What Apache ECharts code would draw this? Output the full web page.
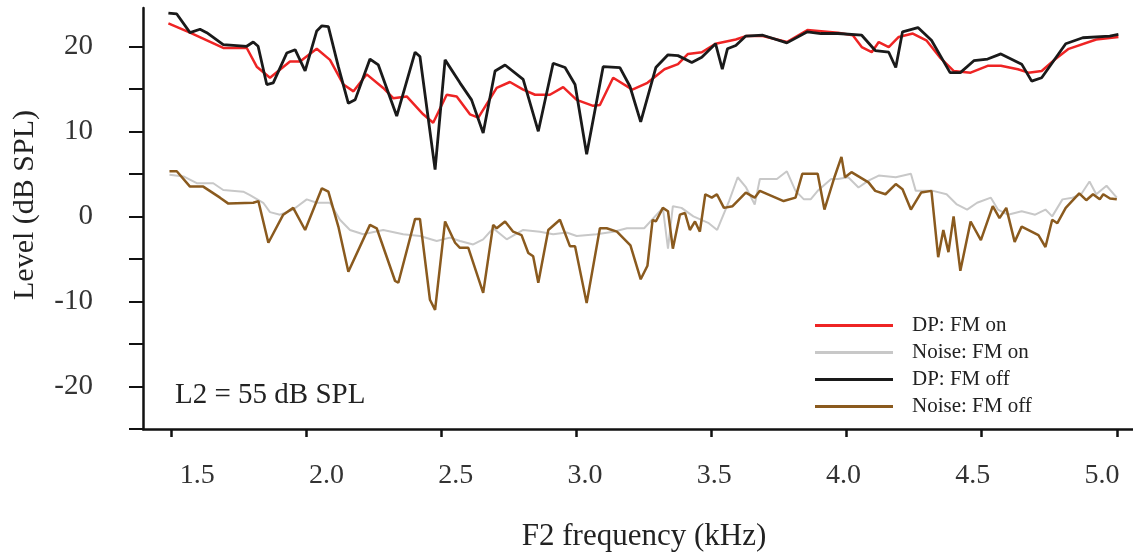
<!DOCTYPE html>
<html>
<head>
<meta charset="utf-8">
<script src="https://cdn.jsdelivr.net/npm/echarts@6/dist/echarts.min.js"></script>
<style>
  html, body { margin: 0; padding: 0; background: #fff; }
  #chart { width: 1133px; height: 556px; }
</style>
</head>
<body>
<div id="chart"></div>
<script>
// tick labels on the frequency axis (kHz)
const freqTicks = [1.5, 2.0, 2.5, 3.0, 3.5, 4.0, 4.5, 5.0];

// DP: FM on
const dpOnF = [1.490, 1.570, 1.693, 1.780, 1.817, 1.866, 1.940, 1.977, 2.039, 2.088, 2.138, 2.175, 2.224, 2.285, 2.322, 2.372, 2.433, 2.470, 2.520, 2.557, 2.606, 2.637, 2.705, 2.754, 2.803, 2.847, 2.902, 2.951, 3.001, 3.062, 3.087, 3.136, 3.207, 3.263, 3.326, 3.376, 3.413, 3.464, 3.515, 3.590, 3.627, 3.690, 3.779, 3.855, 3.968, 4.023, 4.056, 4.093, 4.119, 4.156, 4.193, 4.245, 4.295, 4.345, 4.396, 4.459, 4.522, 4.571, 4.634, 4.673, 4.722, 4.773, 4.822, 4.924, 5.006];
const dpOnL = [22.7, 21.6, 19.8, 19.8, 17.6, 16.3, 18.2, 18.2, 19.7, 18.4, 15.5, 14.7, 16.7, 15.1, 13.9, 14.1, 12.0, 11.0, 14.3, 14.1, 12.0, 11.6, 15.1, 15.8, 14.9, 14.3, 14.3, 15.2, 13.7, 13.0, 13.1, 16.3, 14.9, 15.7, 17.3, 17.9, 19.1, 19.3, 20.3, 20.8, 21.2, 21.2, 20.5, 21.9, 21.6, 21.3, 19.9, 19.3, 20.5, 19.9, 21.1, 21.5, 20.7, 18.7, 17.1, 16.9, 17.7, 17.7, 17.3, 16.9, 17.1, 18.5, 19.7, 20.8, 21.1];

// Noise: FM on
const noiseOnF = [1.494, 1.546, 1.595, 1.656, 1.693, 1.767, 1.792, 1.841, 1.866, 1.903, 1.952, 2.002, 2.039, 2.088, 2.125, 2.162, 2.211, 2.285, 2.359, 2.421, 2.483, 2.532, 2.569, 2.618, 2.655, 2.692, 2.742, 2.803, 2.865, 2.914, 2.964, 3.001, 3.075, 3.137, 3.187, 3.251, 3.320, 3.339, 3.357, 3.389, 3.433, 3.490, 3.521, 3.565, 3.597, 3.628, 3.660, 3.679, 3.742, 3.779, 3.811, 3.842, 3.867, 3.893, 3.943, 3.968, 4.006, 4.044, 4.081, 4.119, 4.182, 4.238, 4.256, 4.320, 4.370, 4.408, 4.446, 4.483, 4.534, 4.560, 4.597, 4.648, 4.698, 4.736, 4.761, 4.799, 4.836, 4.868, 4.899, 4.924, 4.962, 5.000];
const noiseOnL = [4.9, 4.7, 3.9, 3.9, 3.1, 2.9, 2.5, 1.6, 0.5, 0.2, 0.8, 2.0, 1.6, 1.6, -0.4, -1.6, -2.1, -1.6, -2.1, -2.3, -2.9, -2.5, -2.9, -3.3, -2.7, -1.4, -2.7, -1.6, -1.8, -2.1, -1.9, -2.3, -2.1, -1.8, -1.4, -1.4, 1.0, -3.8, 1.2, 1.0, 0.0, -0.8, -1.6, 1.8, 4.6, 3.4, 1.4, 4.4, 4.4, 5.3, 3.0, 2.0, 2.0, 3.0, 4.4, 4.4, 4.6, 3.4, 4.2, 4.8, 4.6, 5.0, 3.0, 3.0, 2.6, 1.4, 0.8, 1.6, 2.2, 0.8, 0.2, 0.6, 0.2, 0.8, 0.0, 2.0, 2.2, 2.6, 4.1, 2.6, 3.6, 2.2];

// DP: FM off
const dpOffF = [1.490, 1.521, 1.570, 1.607, 1.632, 1.693, 1.780, 1.804, 1.822, 1.854, 1.878, 1.928, 1.959, 1.996, 2.039, 2.058, 2.082, 2.119, 2.156, 2.181, 2.236, 2.267, 2.335, 2.403, 2.421, 2.477, 2.514, 2.569, 2.612, 2.655, 2.699, 2.736, 2.803, 2.859, 2.914, 2.958, 2.995, 3.038, 3.099, 3.161, 3.198, 3.238, 3.294, 3.339, 3.376, 3.427, 3.464, 3.515, 3.540, 3.559, 3.590, 3.627, 3.690, 3.779, 3.855, 3.905, 3.968, 4.056, 4.106, 4.156, 4.182, 4.207, 4.264, 4.314, 4.383, 4.421, 4.471, 4.522, 4.571, 4.648, 4.685, 4.722, 4.811, 4.874, 4.974, 5.006];
const dpOffL = [23.9, 23.8, 21.6, 22.0, 21.6, 20.2, 20.0, 20.5, 20.0, 15.5, 15.7, 19.2, 19.6, 17.1, 21.8, 22.4, 22.3, 17.6, 13.3, 13.7, 18.5, 17.8, 11.8, 19.3, 18.8, 5.5, 18.4, 15.7, 13.7, 9.8, 17.1, 17.8, 16.1, 10.0, 18.0, 17.5, 15.5, 7.3, 17.6, 17.5, 15.3, 11.1, 17.5, 19.0, 18.9, 18.1, 18.7, 20.3, 17.3, 19.7, 20.1, 21.2, 21.3, 20.4, 21.7, 21.5, 21.5, 21.3, 19.5, 19.3, 17.5, 21.7, 22.2, 20.7, 16.9, 16.9, 18.3, 18.5, 19.1, 17.9, 15.9, 16.3, 20.3, 21.0, 21.2, 21.4];

// Noise: FM off
const noiseOffF = [1.494, 1.521, 1.570, 1.619, 1.681, 1.712, 1.804, 1.823, 1.860, 1.915, 1.952, 1.996, 2.058, 2.082, 2.119, 2.156, 2.236, 2.261, 2.329, 2.341, 2.403, 2.421, 2.458, 2.477, 2.514, 2.551, 2.569, 2.600, 2.655, 2.692, 2.705, 2.736, 2.766, 2.797, 2.822, 2.840, 2.859, 2.896, 2.939, 2.976, 2.995, 3.038, 3.087, 3.112, 3.150, 3.200, 3.238, 3.263, 3.282, 3.294, 3.320, 3.339, 3.357, 3.383, 3.402, 3.420, 3.439, 3.457, 3.477, 3.501, 3.520, 3.546, 3.578, 3.627, 3.660, 3.679, 3.767, 3.811, 3.836, 3.893, 3.918, 3.955, 3.981, 3.994, 4.018, 4.081, 4.106, 4.144, 4.182, 4.207, 4.238, 4.276, 4.314, 4.339, 4.358, 4.377, 4.396, 4.421, 4.459, 4.497, 4.541, 4.566, 4.591, 4.622, 4.648, 4.710, 4.736, 4.761, 4.780, 4.811, 4.861, 4.887, 4.912, 4.937, 4.950, 4.975, 5.000];
const noiseOffL = [5.3, 5.3, 3.5, 3.5, 2.2, 1.5, 1.6, 1.8, -3.1, 0.2, 1.0, -1.6, 3.3, 2.9, -1.2, -6.5, -1.0, -1.4, -7.6, -7.8, -0.3, -0.3, -9.8, -11.0, -0.6, -3.1, -3.7, -3.7, -9.0, -1.0, -1.4, -0.6, -1.8, -2.2, -4.3, -4.7, -7.8, -1.6, -0.4, -3.5, -3.5, -10.2, -1.4, -1.4, -1.8, -3.4, -7.4, -5.8, -0.4, -0.6, 1.0, 0.6, -3.8, 0.2, 0.4, -1.6, -0.6, -1.8, 2.6, 2.2, 2.6, 1.0, 1.2, 2.8, 2.2, 3.0, 1.8, 2.2, 5.0, 5.0, 0.8, 4.6, 7.0, 4.6, 5.2, 4.0, 3.0, 2.6, 3.8, 3.2, 0.8, 2.8, 3.0, -4.8, -1.6, -4.2, 0.0, -6.4, -0.6, -2.8, 1.2, -0.2, 1.0, -3.0, -1.2, -2.2, -3.6, -0.4, -0.8, 1.0, 2.7, 1.9, 2.6, 2.0, 2.6, 2.1, 2.0];

function pairs(fs, ls) {
  return fs.map((f, i) => [f, ls[i]])
}

const serif = '"Liberation Serif", "DejaVu Serif", serif'
const chart = echarts.init(document.getElementById('chart'))

let option = {
  animation: false,
  textStyle: { fontFamily: serif },
  grid: { left: 143, right: 0, top: 8, bottom: 127, outerBoundsMode: 'none', containLabel: false },
  legend: {
    orient: 'vertical',
    left: 810,
    top: 310,
    icon: 'rect',
    itemWidth: 78,
    itemHeight: 3,
    itemGap: 6,
    textStyle: { fontFamily: serif, fontSize: 21, color: '#222', padding: [0, 0, 0, 14] },
    data: ['DP: FM on', 'Noise: FM on', 'DP: FM off', 'Noise: FM off']
  },
  xAxis: [
    {
      // data axis: line and ticks
      type: 'value',
      min: 1.396,
      max: 5.06,
      axisLine: { onZero: false, lineStyle: { color: '#111', width: 2.5 } },
      axisTick: { customValues: freqTicks, length: 8, lineStyle: { color: '#111', width: 2.5 } },
      axisLabel: { show: false },
      splitLine: { show: false }
    },
    {
      // the printed labels sit on a slightly compressed scale in the original figure
      type: 'value',
      position: 'bottom',
      min: 1.29,
      max: 5.12,
      axisLine: { show: false, onZero: false },
      axisTick: { show: false },
      axisLabel: {
        customValues: freqTicks,
        margin: 33,
        fontSize: 28,
        color: '#333',
        fontFamily: serif,
        formatter: v => v.toFixed(1)
      },
      splitLine: { show: false }
    }
  ],
  yAxis: {
    type: 'value',
    min: -25,
    max: 24.5,
    interval: 5,
    axisLine: { show: true, lineStyle: { color: '#111', width: 2.5 } },
    axisTick: { show: true, length: 14, lineStyle: { color: '#111', width: 2 } },
    axisLabel: {
      margin: 50,
      fontSize: 29,
      color: '#333',
      fontFamily: serif,
      showMaxLabel: false,
      formatter: v => (v % 10 === 0 && v > -25) ? String(v) : ''
    },
    splitLine: { show: false }
  },
  graphic: [
    {
      type: 'text',
      x: 25,
      y: 205,
      rotation: Math.PI / 2,
      style: { text: 'Level (dB SPL)', fontFamily: serif, fontSize: 30, fill: '#222', align: 'center', verticalAlign: 'middle' }
    },
    {
      type: 'text',
      x: 644,
      y: 537,
      style: { text: 'F2 frequency (kHz)', fontFamily: serif, fontSize: 31, fill: '#222', align: 'center', verticalAlign: 'middle' }
    },
    {
      type: 'text',
      x: 175,
      y: 395,
      style: { text: 'L2 = 55 dB SPL', fontFamily: serif, fontSize: 29, fill: '#222', align: 'left', verticalAlign: 'middle' }
    }
  ],
  series: [
    {
      name: 'DP: FM on', type: 'line', showSymbol: false,
      itemStyle: { color: '#ee2424' },
      lineStyle: { color: '#ee2424', width: 2.5 },
      data: pairs(dpOnF, dpOnL)
    },
    {
      name: 'Noise: FM on', type: 'line', showSymbol: false,
      itemStyle: { color: '#c8c8c8' },
      lineStyle: { color: '#c8c8c8', width: 2 },
      data: pairs(noiseOnF, noiseOnL)
    },
    {
      name: 'DP: FM off', type: 'line', showSymbol: false,
      itemStyle: { color: '#1a1a1a' },
      lineStyle: { color: '#1a1a1a', width: 2.8 },
      data: pairs(dpOffF, dpOffL)
    },
    {
      name: 'Noise: FM off', type: 'line', showSymbol: false,
      itemStyle: { color: '#8a5a1e' },
      lineStyle: { color: '#8a5a1e', width: 2.5 },
      data: pairs(noiseOffF, noiseOffL)
    }
  ]
}

chart.setOption(option)
</script>
</body>
</html>
